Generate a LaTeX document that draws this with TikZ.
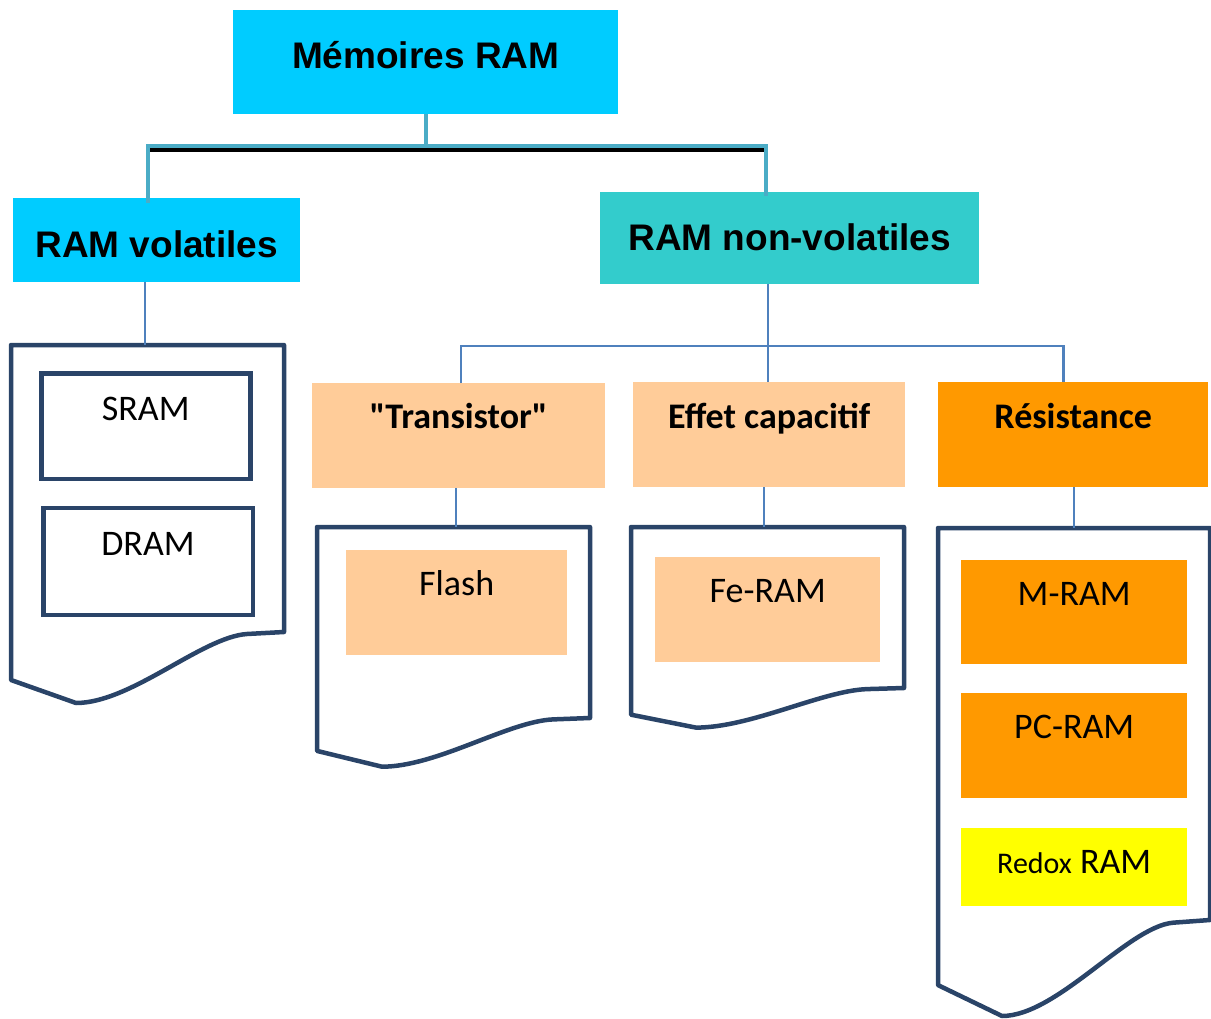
\documentclass[tikz,border=0pt]{standalone}
\usepackage{fontspec}
\setmainfont{Carlito}
\newfontfamily\arialfont{Liberation Sans}
\definecolor{ramblue}{HTML}{00CCFF}
\definecolor{nvteal}{HTML}{33CCCC}
\definecolor{peach}{HTML}{FFCC99}
\definecolor{resorange}{HTML}{FF9900}
\definecolor{redoxyellow}{HTML}{FFFF00}
\definecolor{docblue}{HTML}{2A4468}
\definecolor{trunkblue}{HTML}{4BACC6}
\definecolor{linkblue}{HTML}{4F81BD}
\begin{document}
\begin{tikzpicture}[x=1pt,y=-1pt,
		box/.style={inner sep=0pt,anchor=north west,align=center},
		head/.style={box,font=\arialfont\bfseries\fontsize{37}{40}\selectfont},
		cat/.style={box,font=\bfseries\fontsize{36}{40}\selectfont},
		item/.style={box,font=\fontsize{36}{40}\selectfont},
		doc/.style={draw=docblue,line width=4.5pt,line join=round},
		trunk/.style={line width=4pt},
		link/.style={draw=linkblue,line width=1.5pt}]
		\useasboundingbox (0,0) rectangle (1211,1019);
		% top level
		\node[head,fill=ramblue,minimum width=385pt,text height=58pt,text depth=46pt] (ram) at (233,10) {Mémoires RAM};
		\node[head,fill=ramblue,minimum width=287pt,text height=59pt,text depth=25pt] (vol) at (13,198) {RAM volatiles};
		\node[head,fill=nvteal,minimum width=379pt,text height=58pt,text depth=34pt] (nonvol) at (600,192) {RAM non-volatiles};
		\draw[trunk,black,shift={(0,4)}] (ram.south) -- (ram.south |- 0,146) -| ([xshift=-8.5pt,yshift=-5pt]vol.north);
		\draw[trunk,black,shift={(0,4)}] (ram.south |- 0,146) -| ([xshift=-23.5pt,yshift=-4pt]nonvol.north);
		\draw[trunk,trunkblue] (ram.south) -- (ram.south |- 0,146) -| ([xshift=-8.5pt,yshift=-5pt]vol.north);
		\draw[trunk,trunkblue] (ram.south |- 0,146) -| ([xshift=-23.5pt,yshift=-4pt]nonvol.north);
		% volatiles
		\coordinate (voldoc) at (145,345);
		\draw[doc] (11,345) -- (284,345) -- (284,632) -- (247,634) .. controls (202,637) and (131,703) .. (76,703) -- (11,680) -- cycle;
		\draw[link] (vol.south -| voldoc) -- (voldoc);
		\node[item,draw=docblue,line width=4.5pt,minimum width=209pt,text height=47pt,text depth=58.5pt] (sram) at (39,371) {SRAM};
		\node[item,draw=docblue,line width=4.5pt,minimum width=209.5pt,text height=47.5pt,text depth=59.5pt] (dram) at (41,505.5) {DRAM};
		% non-volatiles
		\node[cat,fill=peach,minimum width=293pt,text height=45pt,text depth=60pt] (trans) at (312,383) {\textquotedbl Transistor\textquotedbl};
		\node[cat,fill=peach,minimum width=272pt,text height=46pt,text depth=59pt] (effet) at (633,382) {Effet capacitif};
		\node[cat,fill=resorange,minimum width=270pt,text height=46pt,text depth=59pt] (res) at (938,382) {Résistance};
		\coordinate (hub) at (768,346);
		\draw[link,line width=2.5pt] (nonvol.south -| hub) -- (hub);
		\draw[link,line width=2.5pt] ([xshift=2.5pt]trans.north) |- (hub) -| ([xshift=-9.5pt]res.north);
		\draw[link,line width=2.5pt] (hub) -- (effet.north -| hub);
		\coordinate (tdoc) at (456,527);
		\coordinate (edoc) at (764,527);
		\coordinate (rdoc) at (1074,528);
		\draw[doc] (317,527) -- (590,527) -- (590,718) -- (553,719.4) .. controls (508,721.5) and (437,766.7) .. (382,766.7) -- (317,750.9) -- cycle;
		\draw[doc] (631,527) -- (904,527) -- (904,688) -- (867,689.1) .. controls (822,690.8) and (751,727.6) .. (696,727.6) -- (631,714.7) -- cycle;
		\draw[doc] (938,528) -- (1210,528) -- (1210,920) -- (1173,922.7) .. controls (1128,926.8) and (1057,1016) .. (1002,1016) -- (938,985.1) -- cycle;
		\draw[link] (trans.south -| tdoc) -- (tdoc);
		\draw[link] (effet.south -| edoc) -- (edoc);
		\draw[link] (res.south -| rdoc) -- (rdoc);
		\node[item,fill=peach,minimum width=221pt,text height=45pt,text depth=60pt] (flash) at (346,550) {Flash};
		\node[item,fill=peach,minimum width=225pt,text height=45pt,text depth=60pt] (feram) at (655,557) {Fe-RAM};
		\node[item,fill=resorange,minimum width=226pt,text height=45pt,text depth=59pt] (mram) at (961,560) {M-RAM};
		\node[item,fill=resorange,minimum width=226pt,text height=45pt,text depth=60pt] (pcram) at (961,693) {PC-RAM};
		\node[item,fill=redoxyellow,minimum width=226pt,text height=45pt,text depth=33pt] (redox) at (961,828) {{\fontsize{30}{34}\selectfont Redox} RAM};
	\end{tikzpicture}
\end{document}
